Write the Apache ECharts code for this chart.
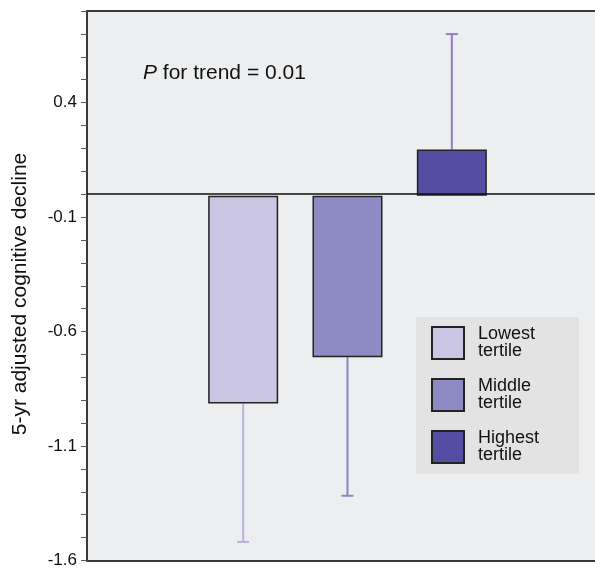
<!DOCTYPE html>
<html><head><meta charset="utf-8">
<script src="https://cdn.jsdelivr.net/npm/echarts@6/dist/echarts.min.js"></script>
<style>html,body{margin:0;padding:0;background:#fff}#c{width:595px;height:569px}</style>
</head><body><div id="c"></div>
<script>
const categories = ['Lowest\ntertile', 'Middle\ntertile', 'Highest\ntertile'];
const meanValues = [-0.9, -0.7, 0.2];
const errorEnds = [-1.5, -1.3, 0.7];
const yMin = -1.6, yMax = 0.8;
const yTickLabels = ['-1.6', '-1.1', '-0.6', '-0.1', '0.4'];
const barColors = ['#cbc5e4', '#8e8ac3', '#534ea3'];
const errColors = ['#b9b2df', '#8a85c9', '#9479cf'];
const trendPrefix = 'P';
const trendRest = ' for trend = 0.01';
const yTitle = '5-yr adjusted cognitive decline';

const FF = '"Liberation Sans", Arial, Helvetica, sans-serif';
const chart = echarts.init(document.getElementById('c'), null, {renderer: 'canvas'});

const barSeries = categories.map((name, k) => ({
  type: 'bar', name: name, xAxisIndex: 2, yAxisIndex: 1,
  data: categories.map((c, i) => i === k ? meanValues[k] : '-'),
  barWidth: 70, barGap: '-100%', z: 3,
  itemStyle: {color: barColors[k], borderColor: '#222', borderWidth: 1.5}
}));

const option = {
  animation: false,
  backgroundColor: '#ffffff',
  grid: [
    {left: 87, right: 0, top: 11, bottom: 4, show: true, backgroundColor: '#eceef0', borderWidth: 0},
    {left: 191, width: 313, top: 11, bottom: 4}
  ],
  xAxis: [
    {type: 'value', gridIndex: 0, min: 0, max: 1, position: 'bottom',
     axisLine: {show: true, onZero: false, lineStyle: {color: '#3a3a3a', width: 2}},
     axisTick: {show: false}, axisLabel: {show: false}, splitLine: {show: false}},
    {type: 'value', gridIndex: 0, min: 0, max: 1, position: 'top',
     axisLine: {show: true, onZero: false, lineStyle: {color: '#3a3a3a', width: 2}},
     axisTick: {show: false}, axisLabel: {show: false}, splitLine: {show: false}},
    {type: 'category', gridIndex: 1, data: categories, show: false, boundaryGap: true}
  ],
  yAxis: [
    {type: 'value', gridIndex: 0, min: yMin, max: yMax, interval: 0.1,
     axisLine: {show: true, onZero: false, lineStyle: {color: '#3a3a3a', width: 2}},
     axisTick: {show: true, length: 6, interval: 0, lineStyle: {color: '#555', width: 1}},
     axisLabel: {show: true, interval: 0, margin: 10, fontSize: 17, color: '#111', fontFamily: FF,
       formatter: v => { const s = (Math.round(v * 10) / 10).toFixed(1); return yTickLabels.includes(s) ? s : ''; }},
     splitLine: {show: false}},
    {type: 'value', gridIndex: 1, min: yMin, max: yMax, show: false, splitLine: {show: false}}
  ],
  legend: {
    left: 416, top: 317, orient: 'vertical', data: categories, icon: 'rect',
    itemWidth: 32, itemHeight: 32, itemGap: 8, padding: [4, 40, 5, 15],
    backgroundColor: '#e3e3e3', selectedMode: false,
    textStyle: {fontSize: 18, lineHeight: 17, color: '#111', fontFamily: FF, padding: [10, 0, 0, 9]}
  },
  graphic: [
    {type: 'text', x: 20, y: 294, rotation: Math.PI / 2,
     style: {text: yTitle, fontSize: 21, fontFamily: FF, fill: '#111',
       align: 'center', verticalAlign: 'middle', textAlign: 'center', textVerticalAlign: 'middle'}},
    {type: 'text', left: 143, top: 63,
     style: {text: '{i|' + trendPrefix + '}' + trendRest, fontSize: 21, fontFamily: FF, fill: '#111',
       rich: {i: {fontStyle: 'italic', fontSize: 21, fontFamily: FF, fill: '#111'}}}}
  ],
  series: [
    {type: 'line', xAxisIndex: 0, yAxisIndex: 0, data: [], silent: true,
     markLine: {silent: true, symbol: ['none', 'none'], label: {show: false},
       lineStyle: {color: '#111', width: 1.5, type: 'solid'}, data: [{yAxis: 0}]}},
    ...barSeries,
    {type: 'custom', xAxisIndex: 2, yAxisIndex: 1, z: 2, silent: true,
     data: categories.map((c, i) => [i, meanValues[i], errorEnds[i]]),
     encode: {x: 0, y: [1, 2]},
     renderItem: (params, api) => {
       const i = api.value(0);
       const p0 = api.coord([i, api.value(1)]);
       const p1 = api.coord([i, api.value(2)]);
       const st = {stroke: errColors[i], lineWidth: 2};
       return {type: 'group', children: [
         {type: 'line', shape: {x1: p0[0], y1: p0[1], x2: p1[0], y2: p1[1]}, style: st},
         {type: 'line', shape: {x1: p1[0] - 6, y1: p1[1], x2: p1[0] + 6, y2: p1[1]}, style: st}
       ]};
     }}
  ]
};
chart.setOption(option);
</script></body></html>
